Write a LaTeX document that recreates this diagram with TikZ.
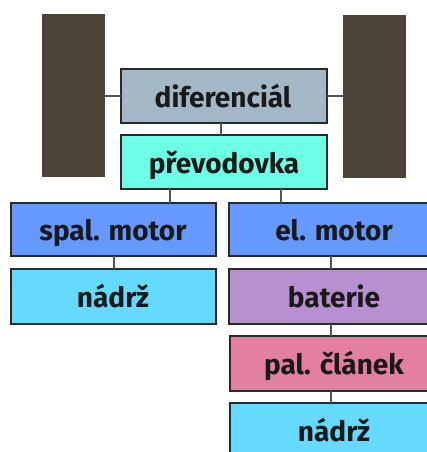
\documentclass[tikz,border=0pt]{standalone}
\usepackage{fontspec}
\setmainfont{Fira Sans}
\definecolor{wheel}{HTML}{4A4536}
\definecolor{difc}{HTML}{A3B7C7}
\definecolor{prevc}{HTML}{6CFFE6}
\definecolor{motc}{HTML}{6699FF}
\definecolor{nadc}{HTML}{66D9FF}
\definecolor{batc}{HTML}{B88FD0}
\definecolor{palc}{HTML}{E37FA0}
\definecolor{edge}{HTML}{2A2A2A}
\begin{document}
\begin{tikzpicture}[x=1pt,y=-1pt,
  box/.style={draw=edge,line width=1.5pt},
  lbl/.style={font=\bfseries\fontsize{28}{28}\selectfont,text=black!90,inner sep=0pt,anchor=base},
  link/.style={draw=edge!80,line width=1.5pt},
  wheelbox/.style={fill=wheel}]
\useasboundingbox (0,0) rectangle (427,452);
\begin{scope}
\clip (0,0) rectangle (427,452);
\fill[wheelbox] (42,14) rectangle (105,177);
\fill[wheelbox] (343,15) rectangle (406,178);
\coordinate (wl) at (105,96);
\coordinate (wr) at (343,96);
\path[box,fill=difc] (121,69) rectangle (327,123);
\node[lbl] (dif) at (223,107) {diferenciál};
\path[box,fill=prevc] (121,135) rectangle (327,189);
\node[lbl] (prev) at (224,173) {převodovka};
\path[box,fill=motc] (11,203) rectangle (216,256);
\node[lbl] (spal) at (113,240) {spal. motor};
\path[box,fill=motc] (229,203) rectangle (440,256);
\node[lbl] (el) at (334,240) {el. motor};
\path[box,fill=nadc] (11,269) rectangle (216,324);
\node[lbl] (nad1) at (113,307) {nádrž};
\path[box,fill=batc] (229,269) rectangle (440,324);
\node[lbl] (bat) at (334,307) {baterie};
\path[box,fill=palc] (230,336) rectangle (440,391);
\node[lbl] (pal) at (334,374) {pal. článek};
\path[box,fill=nadc] (230,403) rectangle (440,470);
\node[lbl] (nad2) at (334,441) {nádrž};
\coordinate (dl) at (121,96);
\coordinate (dr) at (327,96);
\draw[link] (wl) -- (dl);
\draw[link] (dr) -- (wr);
\draw[link] (221,123) -- (221,135);
\draw[link] (170,189) -- (170,203);
\draw[link] (281,189) -- (281,203);
\draw[link] (114,256) -- (114,269);
\draw[link] (331,256) -- (331,269);
\draw[link] (331,324) -- (331,336);
\draw[link] (331,391) -- (331,403);
\end{scope}
\end{tikzpicture}
\end{document}
